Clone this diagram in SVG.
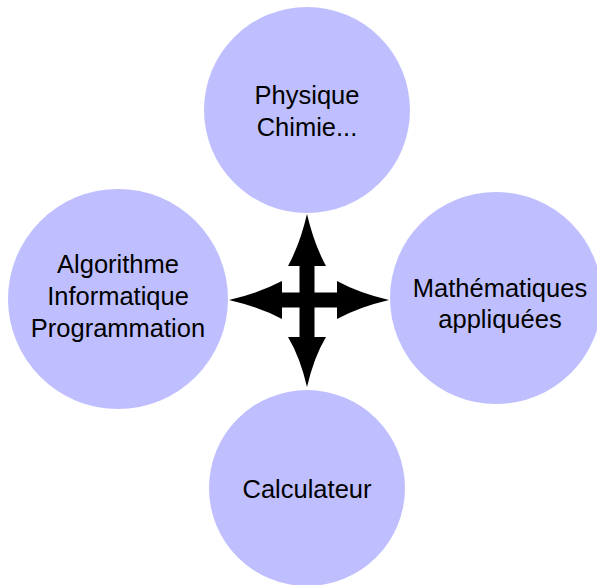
<svg xmlns="http://www.w3.org/2000/svg" width="597" height="585" viewBox="0 0 597 585">
<style>
.n{fill:#BFBFFF;stroke:none}
.t{font-family:"Liberation Sans",Arial,Helvetica,sans-serif;font-size:25.5px;fill:#000;text-anchor:middle}
.a{fill:#000;stroke:none}
</style>
<rect width="597" height="585" fill="#fff"/>
<g id="physique">
<circle class="n" cx="307" cy="110" r="103"/>
<text class="t" x="307" y="104">Physique</text>
<text class="t" x="307" y="136">Chimie...</text>
</g>
<g id="algorithme">
<circle class="n" cx="118" cy="299" r="110"/>
<text class="t" x="118" y="273">Algorithme</text>
<text class="t" x="118" y="305">Informatique</text>
<text class="t" x="118" y="337">Programmation</text>
</g>
<g id="mathematiques">
<circle class="n" cx="496" cy="298" r="106"/>
<text class="t" x="500" y="297">Mathématiques</text>
<text class="t" x="500" y="328">appliquées</text>
</g>
<g id="calculateur">
<circle class="n" cx="307" cy="488" r="98"/>
<text class="t" x="307" y="498">Calculateur</text>
</g>
<g id="connectors">
<path class="a" d="M307,214 Q300,244 288,266 L299.5,266 L299.5,292.5 L282,292.5 L282,281 Q259,293 229,300 Q259,307 282,319 L282,307.5 L299.5,307.5 L299.5,337 L288,337 Q300,357 307,387 Q314,357 326,337 L314.5,337 L314.5,307.5 L337,307.5 L337,319 Q359,307 389,300 Q359,293 337,281 L337,292.5 L314.5,292.5 L314.5,266 L326,266 Q314,244 307,214 Z"/>
</g>
</svg>
